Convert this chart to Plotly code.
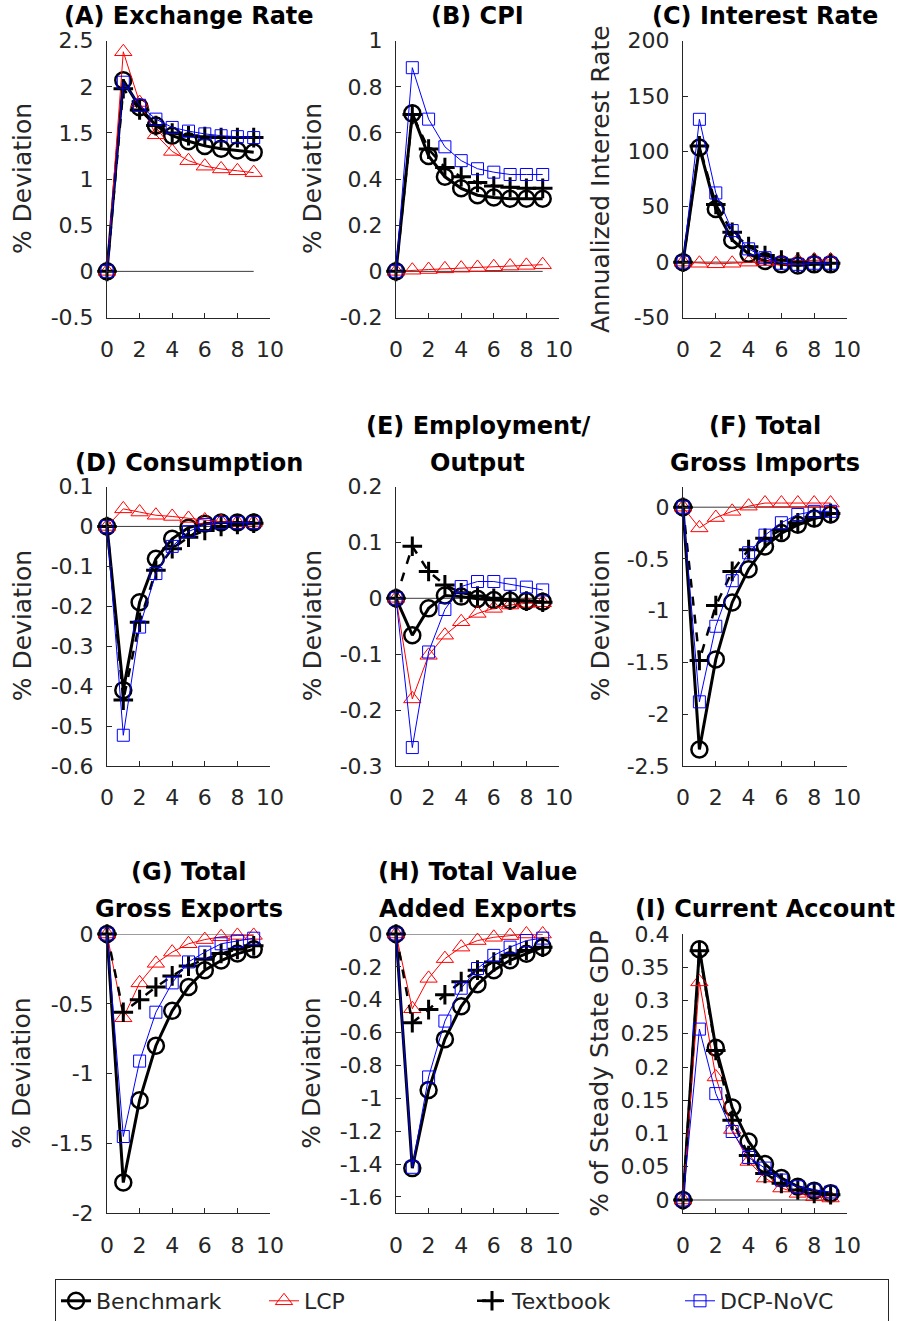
import plotly.graph_objects as go

# Impulse responses, periods 0..9
periods = list(range(10))

er_bench = [0, 2.07, 1.78, 1.58, 1.47, 1.41, 1.36, 1.33, 1.31, 1.29]
er_lcp = [0, 2.38, 1.83, 1.48, 1.30, 1.20, 1.14, 1.11, 1.09, 1.07]
er_text = [0, 1.98, 1.75, 1.58, 1.50, 1.47, 1.46, 1.45, 1.45, 1.45]
er_dcp = [0, 2.05, 1.80, 1.65, 1.56, 1.52, 1.49, 1.47, 1.46, 1.45]

cpi_bench = [0, 0.685, 0.50, 0.41, 0.36, 0.33, 0.32, 0.315, 0.315, 0.315]
cpi_lcp = [0, 0.005, 0.008, 0.011, 0.014, 0.017, 0.02, 0.023, 0.026, 0.029]
cpi_text = [0, 0.68, 0.53, 0.45, 0.41, 0.385, 0.37, 0.365, 0.36, 0.36]
cpi_dcp = [0, 0.883, 0.66, 0.54, 0.48, 0.445, 0.43, 0.42, 0.42, 0.42]

ir_bench = [0, 103.5, 48, 20, 7.5, 1, -2, -3, -2, -2]
ir_lcp = [0, -1, -1.5, -1, 0, 0.5, 1, 1.5, 2, 2]
ir_text = [0, 105, 52, 27, 14, 6, 2, 0, -1, -1]
ir_dcp = [0, 129, 62.5, 28.5, 12, 4, -1, -2, -1, -1]

c_bench = [0, -0.41, -0.19, -0.081, -0.031, -0.003, 0.007, 0.01, 0.01, 0.01]
c_lcp = [0, 0.044, 0.036, 0.028, 0.025, 0.02, 0.016, 0.012, 0.01, 0.01]
c_text = [0, -0.435, -0.24, -0.11, -0.056, -0.027, -0.01, 0.0, 0.005, 0.008]
c_dcp = [0, -0.523, -0.252, -0.118, -0.05, -0.013, 0.005, 0.01, 0.01, 0.01]

e_bench = [0, -0.066, -0.018, 0.005, 0.003, -0.001, -0.003, -0.004, -0.005, -0.006]
e_lcp = [0, -0.18, -0.102, -0.066, -0.042, -0.027, -0.018, -0.012, -0.009, -0.008]
e_text = [0, 0.093, 0.048, 0.024, 0.01, 0.004, 0.0, -0.003, -0.005, -0.007]
e_dcp = [0, -0.267, -0.096, -0.02, 0.021, 0.03, 0.03, 0.025, 0.02, 0.015]

im_bench = [0, -2.34, -1.47, -0.92, -0.6, -0.38, -0.25, -0.17, -0.11, -0.07]
im_lcp = [0, -0.2, -0.1, -0.04, 0.01, 0.04, 0.04, 0.04, 0.04, 0.04]
im_text = [0, -1.48, -0.95, -0.62, -0.41, -0.3, -0.22, -0.15, -0.1, -0.06]
im_dcp = [0, -1.88, -1.15, -0.71, -0.44, -0.27, -0.15, -0.07, -0.04, -0.04]

ex_bench = [0, -1.78, -1.19, -0.8, -0.55, -0.38, -0.26, -0.19, -0.14, -0.11]
ex_lcp = [0, -0.6, -0.35, -0.21, -0.13, -0.07, -0.04, -0.02, -0.01, -0.01]
ex_text = [0, -0.56, -0.47, -0.38, -0.3, -0.23, -0.18, -0.14, -0.11, -0.085]
ex_dcp = [0, -1.45, -0.91, -0.56, -0.35, -0.2, -0.13, -0.07, -0.05, -0.03]

va_bench = [0, -1.425, -0.95, -0.64, -0.44, -0.306, -0.22, -0.16, -0.12, -0.08]
va_lcp = [0, -0.455, -0.27, -0.15, -0.08, -0.04, -0.02, -0.01, 0, 0]
va_text = [0, -0.54, -0.46, -0.37, -0.29, -0.22, -0.17, -0.13, -0.1, -0.08]
va_dcp = [0, -1.42, -0.87, -0.53, -0.33, -0.21, -0.13, -0.08, -0.04, -0.025]

ca_bench = [0, 0.377, 0.229, 0.139, 0.088, 0.054, 0.033, 0.02, 0.014, 0.01]
ca_lcp = [0, 0.328, 0.185, 0.106, 0.058, 0.033, 0.018, 0.01, 0.005, 0.003]
ca_text = [0, 0.375, 0.225, 0.12, 0.067, 0.04, 0.025, 0.015, 0.01, 0.008]
ca_dcp = [0, 0.257, 0.16, 0.103, 0.064, 0.048, 0.03, 0.02, 0.015, 0.012]

series_names = ["Benchmark", "LCP", "Textbook", "DCP-NoVC"]

x_tick_vals = [0, 2, 4, 6, 8, 10]
x_tick_text = ["0", "2", "4", "6", "8", "10"]

panels = [
    dict(title=["(A) Exchange Rate"], ylabel="% Deviation",
         data=[er_bench, er_lcp, er_text, er_dcp], yrange=[-0.5, 2.5],
         ytv=[-0.5, 0, 0.5, 1, 1.5, 2, 2.5],
         ytt=["-0.5", "0", "0.5", "1", "1.5", "2", "2.5"]),
    dict(title=["(B) CPI"], ylabel="% Deviation",
         data=[cpi_bench, cpi_lcp, cpi_text, cpi_dcp], yrange=[-0.2, 1],
         ytv=[-0.2, 0, 0.2, 0.4, 0.6, 0.8, 1],
         ytt=["-0.2", "0", "0.2", "0.4", "0.6", "0.8", "1"]),
    dict(title=["(C) Interest Rate"], ylabel="Annualized Interest Rate",
         data=[ir_bench, ir_lcp, ir_text, ir_dcp], yrange=[-50, 200],
         ytv=[-50, 0, 50, 100, 150, 200],
         ytt=["-50", "0", "50", "100", "150", "200"]),
    dict(title=["(D) Consumption"], ylabel="% Deviation",
         data=[c_bench, c_lcp, c_text, c_dcp], yrange=[-0.6, 0.1],
         ytv=[-0.6, -0.5, -0.4, -0.3, -0.2, -0.1, 0, 0.1],
         ytt=["-0.6", "-0.5", "-0.4", "-0.3", "-0.2", "-0.1", "0", "0.1"]),
    dict(title=["(E) Employment/", "Output"], ylabel="% Deviation",
         data=[e_bench, e_lcp, e_text, e_dcp], yrange=[-0.3, 0.2],
         ytv=[-0.3, -0.2, -0.1, 0, 0.1, 0.2],
         ytt=["-0.3", "-0.2", "-0.1", "0", "0.1", "0.2"]),
    dict(title=["(F) Total", "Gross Imports"], ylabel="% Deviation",
         data=[im_bench, im_lcp, im_text, im_dcp], yrange=[-2.5, 0.2],
         ytv=[-2.5, -2, -1.5, -1, -0.5, 0],
         ytt=["-2.5", "-2", "-1.5", "-1", "-0.5", "0"]),
    dict(title=["(G) Total", "Gross Exports"], ylabel="% Deviation",
         data=[ex_bench, ex_lcp, ex_text, ex_dcp], yrange=[-2, 0],
         ytv=[-2, -1.5, -1, -0.5, 0],
         ytt=["-2", "-1.5", "-1", "-0.5", "0"]),
    dict(title=["(H) Total Value", "Added Exports"], ylabel="% Deviation",
         data=[va_bench, va_lcp, va_text, va_dcp], yrange=[-1.7, 0],
         ytv=[-1.6, -1.4, -1.2, -1, -0.8, -0.6, -0.4, -0.2, 0],
         ytt=["-1.6", "-1.4", "-1.2", "-1", "-0.8", "-0.6", "-0.4", "-0.2", "0"]),
    dict(title=["(I) Current Account"], ylabel="% of Steady State GDP",
         data=[ca_bench, ca_lcp, ca_text, ca_dcp], yrange=[-0.02, 0.4],
         ytv=[0, 0.05, 0.1, 0.15, 0.2, 0.25, 0.3, 0.35, 0.4],
         ytt=["0", "0.05", "0.1", "0.15", "0.2", "0.25", "0.3", "0.35", "0.4"]),
]

W, H = 903, 1321
FONT = "DejaVu Sans"
AX = "#262626"

# pixel boxes of the 3x3 grid
col_px = [(107, 270), (396, 559), (683, 847)]
row_px = [(40.7, 317.5), (486.5, 766), (934, 1213.3)]
title_rows = [[16], [426, 463], [872, 909]]
ylabel_x = [22, 312, 600]

styles = [
    dict(line=dict(color="black", width=3),
         marker=dict(symbol="circle-open", size=16, color="black",
                     line=dict(color="black", width=2.5))),
    dict(line=dict(color="#ff0000", width=1),
         marker=dict(symbol="triangle-up-open", size=15, color="#ff0000",
                     line=dict(color="#ff0000", width=1))),
    dict(line=dict(color="black", width=2.5, dash="dash"),
         marker=dict(symbol="cross-thin", size=14, color="black",
                     line=dict(color="black", width=3))),
    dict(line=dict(color="#0000ff", width=1),
         marker=dict(symbol="square-open", size=12, color="#0000ff",
                     line=dict(color="#0000ff", width=1))),
]

fig = go.Figure()
layout = dict(width=W, height=H,
              margin=dict(l=0, r=0, t=0, b=0, autoexpand=False),
              paper_bgcolor="white", plot_bgcolor="white",
              font=dict(family=FONT, size=22, color=AX))
annotations = []

for i, p in enumerate(panels):
    r, c = divmod(i, 3)
    n = "" if i == 0 else str(i + 1)
    xa, ya = "x" + n, "y" + n
    x0, x1 = col_px[c]
    y0, y1 = row_px[r]
    axis_common = dict(showline=True, linecolor=AX, linewidth=1,
                       ticks="inside", ticklen=5, tickcolor=AX,
                       showgrid=False, zeroline=False,
                       tickfont=dict(family=FONT, size=22, color=AX))
    layout["xaxis" + n] = dict(axis_common, domain=[x0 / W, x1 / W],
                               range=[0, 10], anchor=ya,
                               tickvals=x_tick_vals, ticktext=x_tick_text,
                               ticklabelstandoff=12)
    layout["yaxis" + n] = dict(axis_common, domain=[1 - y1 / H, 1 - y0 / H],
                               range=p["yrange"], anchor=xa,
                               tickvals=p["ytv"], ticktext=p["ytt"],
                               ticklabelstandoff=8)

    # zero reference line
    fig.add_trace(go.Scatter(x=[periods[0], periods[-1]], y=[0, 0], mode="lines",
                             line=dict(color="#3a3a3a", width=1),
                             xaxis=xa, yaxis=ya, showlegend=False,
                             hoverinfo="skip"))
    for k, ys in enumerate(p["data"]):
        fig.add_trace(go.Scatter(x=periods, y=ys, mode="lines+markers",
                                 name=series_names[k], xaxis=xa, yaxis=ya,
                                 showlegend=(i == 0), cliponaxis=False,
                                 **styles[k]))

    xc = (x0 + x1) / 2 / W
    for line_txt, ty in zip(p["title"], title_rows[r][-len(p["title"]):]):
        annotations.append(dict(text="<b>" + line_txt + "</b>", xref="paper",
                                yref="paper", x=xc, y=1 - ty / H,
                                xanchor="center", yanchor="middle",
                                showarrow=False,
                                font=dict(family=FONT, size=24, color="black")))
    annotations.append(dict(text=p["ylabel"], xref="paper", yref="paper",
                            x=ylabel_x[c] / W, y=1 - (y0 + y1) / 2 / H,
                            xanchor="center", yanchor="middle", textangle=-90,
                            showarrow=False,
                            font=dict(family=FONT, size=25, color=AX)))

layout["annotations"] = annotations
layout["showlegend"] = True
layout["legend"] = dict(orientation="h", x=55 / W, xanchor="left",
                        y=1 - 1279 / H, yanchor="top",
                        bordercolor=AX, borderwidth=1, bgcolor="white",
                        font=dict(family=FONT, size=22, color=AX),
                        entrywidth=163, entrywidthmode="pixels",
                        tracegroupgap=0)
fig.update_layout(**layout)

fig.write_html("out.html")
